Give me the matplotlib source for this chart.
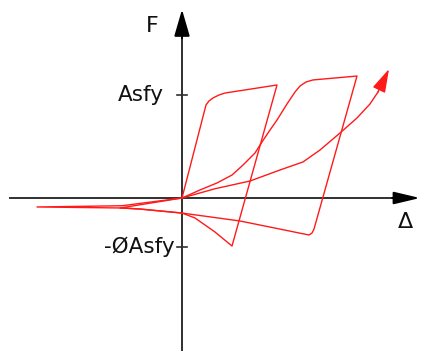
import matplotlib
matplotlib.use("Agg")
import matplotlib.pyplot as plt

# Hysteresis path: cycle 1, cycle 2, final reload (displacement, force / Asfy)
cycle1_d = [0.00, 0.24, 0.27, 0.31, 0.37, 0.43, 0.95, 0.50, 0.33, 0.13, 0.00, -0.42, -0.62, 0.00]
cycle1_f = [0.00, 0.903, 0.942, 0.971, 1.000, 1.019, 1.097, -0.466, -0.330, -0.194, -0.146, -0.107, -0.097, 0.00]

cycle2_d = [0.00, 0.18, 0.35, 0.50, 0.61, 0.73, 0.80, 0.88, 0.95, 1.05, 1.13, 1.18, 1.24, 1.31, 1.75,
            1.32, 1.30, 1.27, 0.58, 0.00, -0.42, -0.59, -1.45, -0.60, 0.00]
cycle2_f = [0.00, 0.078, 0.146, 0.223, 0.320, 0.437, 0.544, 0.660, 0.757, 0.913, 1.029, 1.087, 1.126, 1.146, 1.184,
            -0.301, -0.340, -0.359, -0.223, -0.146, -0.107, -0.097, -0.087, -0.075, 0.00]

final_d = [0.00, 0.33, 0.68, 0.98, 1.21, 1.38, 1.58, 1.75, 1.88, 1.96]
final_f = [0.00, 0.090, 0.165, 0.272, 0.350, 0.466, 0.631, 0.777, 0.913, 1.029]
final_tip = (2.07, 1.252)

tick_values = [1.0, -0.476]
tick_labels = ["Asfy", "-ØAsfy"]

RED = "#ff1a1a"
AXIS = "#303030"

fig = plt.figure(figsize=(4.21, 3.51), dpi=100)
ax = fig.add_axes([0, 0, 1, 1])
ax.set_xlim(-1.82, 2.39)
ax.set_ylim(-1.485, 1.922)
ax.axis("off")

# Axis lines
ax.plot([-1.72, 2.2], [0, 0], color=AXIS, lw=1.4)
ax.plot([0, 0], [-1.49, 1.6], color=AXIS, lw=1.4)
# Black arrowheads at the axis ends
ax.annotate("", xy=(2.38, 0), xytext=(2.1, 0),
            arrowprops=dict(arrowstyle="-|>,head_length=1.6,head_width=0.38",
                            color="black", lw=1.4, shrinkA=0, shrinkB=0))
ax.annotate("", xy=(0, 1.83), xytext=(0, 1.55),
            arrowprops=dict(arrowstyle="-|>,head_length=1.65,head_width=0.48",
                            color="black", lw=1.4, shrinkA=0, shrinkB=0))

# Tick marks and labels on the force axis
for v, lab in zip(tick_values, tick_labels):
    ax.plot([-0.05, 0.05], [v, v], color=AXIS, lw=1.2)
    ax.text(-0.07 if v < 0 else -0.18, v, lab, ha="right", va="center",
            fontsize=15.5, family="DejaVu Sans", color="#111111")

ax.text(-0.30, 1.67, "F", ha="center", va="center", fontsize=16, color="#111111")
ax.text(2.23, -0.235, "Δ", ha="center", va="center", fontsize=16, color="#111111")

# Hysteresis curves
lw = 1.0
ax.plot(cycle1_d, cycle1_f, color=RED, lw=lw)
ax.plot(cycle2_d, cycle2_f, color=RED, lw=lw)
ax.plot(final_d, final_f, color=RED, lw=lw)
ax.annotate("", xy=final_tip, xytext=(final_d[-1], final_f[-1]),
            arrowprops=dict(arrowstyle="-|>,head_length=1.45,head_width=0.42",
                            color=RED, lw=lw, shrinkA=0, shrinkB=0))

fig.savefig("out.png", dpi=100)
